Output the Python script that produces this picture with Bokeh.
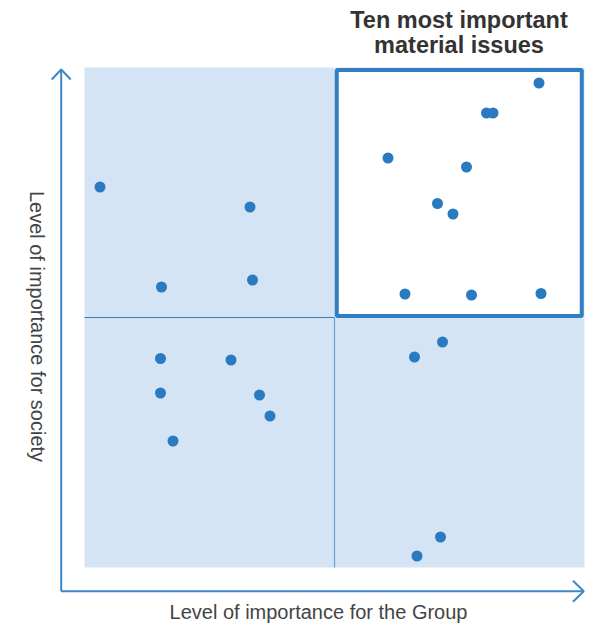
from bokeh.plotting import figure
from bokeh.models import Label, ColumnDataSource
from bokeh.embed import file_html
from bokeh.resources import INLINE

# Issue positions (0-100 scale on each axis)
group_importance = [90.9, 80.4, 81.7, 60.7, 76.4, 70.6, 73.7, 64.1, 77.4, 91.3,
                    3.1, 33.1, 15.4, 33.6,
                    15.2, 29.3, 15.2, 35.0, 37.1, 17.7,
                    71.6, 66.0, 71.2, 66.5]
society_importance = [96.9, 90.9, 90.9, 81.9, 80.1, 72.8, 70.7, 54.7, 54.5, 54.8,
                      76.1, 72.1, 56.1, 57.5,
                      41.8, 41.5, 34.9, 34.5, 30.3, 25.3,
                      45.1, 42.1, 6.1, 2.3]
title_lines = ["Ten most important", "material issues"]
x_label = "Level of importance for the Group"
y_label = "Level of importance for society"

FONT = "Liberation Sans"
BLUE = "#2a7ac2"

p = figure(width=600, height=625, output_backend="svg", toolbar_location=None,
           x_range=(-16.8, 103.2), y_range=(-11.6, 113.4),
           min_border=0, min_border_left=0, min_border_right=0,
           min_border_top=0, min_border_bottom=0)
p.xaxis.visible = False
p.yaxis.visible = False
p.grid.visible = False
p.outline_line_color = None
p.background_fill_color = "white"
p.border_fill_color = "white"

# quadrant background
p.quad(left=[0], right=[100], bottom=[0], top=[100],
       fill_color="#d4e4f4", line_color=None)
# dividers
p.line([0, 50], [50, 50], line_color="#3d7dbb", line_width=1)
p.line([50, 50], [0, 50], line_color="#6aa6dc", line_width=1.3)
# highlighted quadrant
p.quad(left=[50.45], right=[99.45], bottom=[50.3], top=[99.5],
       fill_color="white", line_color="#2f7fc4", line_width=4)

# axes arrows
ax0x, ax0y = -4.66, -4.74
p.line([ax0x, ax0x], [ax0y, 99.6], line_color="#3a88cc", line_width=2)
p.line([ax0x, 99.86], [ax0y, ax0y], line_color="#3a88cc", line_width=2)
p.line([ax0x - 1.9, ax0x, ax0x + 1.9], [97.6, 99.6, 97.6],
       line_color="#3a88cc", line_width=2)
p.line([97.7, 99.86, 97.7], [ax0y + 2.1, ax0y, ax0y - 2.1],
       line_color="#3a88cc", line_width=2)

src = ColumnDataSource(dict(x=group_importance, y=society_importance))
p.scatter("x", "y", source=src, size=11, fill_color=BLUE, line_color=None)

# title
p.add_layout(Label(x=74.9, y=(567 - 19) / 5, text=title_lines[0],
                   text_align="center", text_baseline="middle",
                   text_font=FONT, text_font_style="bold",
                   text_font_size="23.5px", text_color="#333333"))
p.add_layout(Label(x=74.9, y=(567 - 44.5) / 5, text=title_lines[1],
                   text_align="center", text_baseline="middle",
                   text_font=FONT, text_font_style="bold",
                   text_font_size="23.5px", text_color="#333333"))
# axis labels
p.add_layout(Label(x=(318 - 84) / 5, y=(567 - 611) / 5, text=x_label,
                   text_align="center", text_baseline="middle",
                   text_font=FONT, text_font_size="20px", text_color="#444444"))
p.add_layout(Label(x=(37 - 84) / 5, y=(567 - 326) / 5, text=y_label,
                   angle=-1.5707963, text_align="center", text_baseline="middle",
                   text_font=FONT, text_font_size="20px", text_color="#444444"))

open("out.html", "w").write(file_html(p, INLINE))
